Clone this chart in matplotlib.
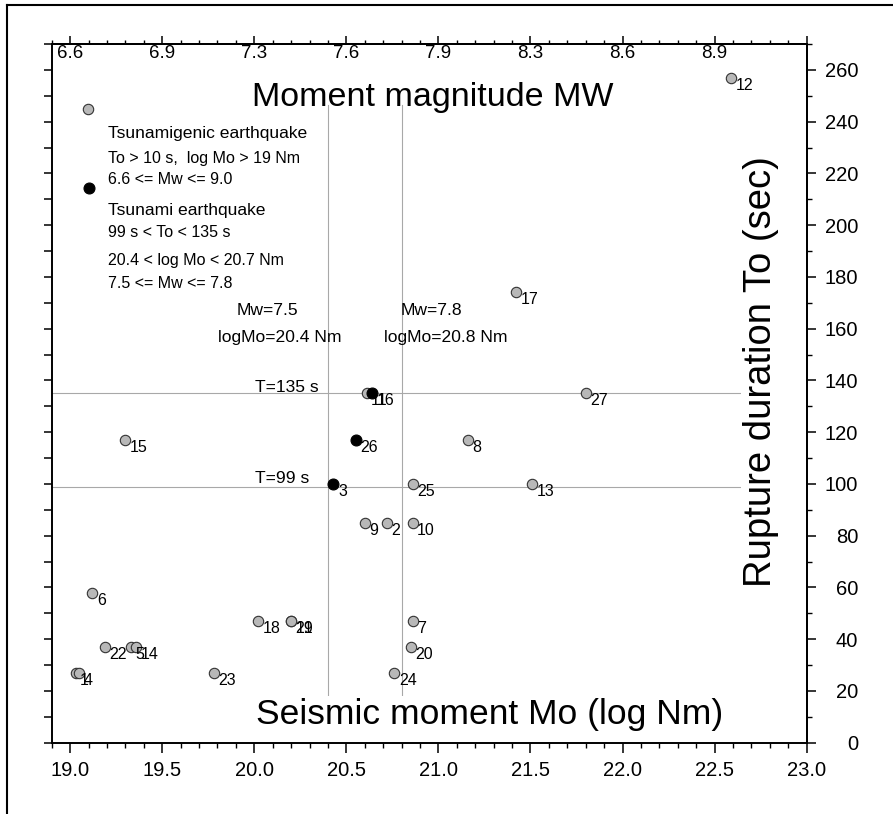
import matplotlib
matplotlib.use("Agg")
import matplotlib.pyplot as plt
from matplotlib.ticker import MultipleLocator, FixedLocator
from matplotlib.lines import Line2D

plt.rcParams['font.family'] = ['Liberation Sans', 'DejaVu Sans']

# ---------------- data ----------------
event_ids = [12, 17, 27, 8, 13, 25, 10, 2, 9, 15, 6, 18, 21, 19, 7, 20, 24, 22, 5, 14, 1, 4, 23, 11, 3, 26, 16]
log_mo = [22.59, 21.42, 21.80, 21.16, 21.51, 20.86, 20.86, 20.72, 20.60, 19.30, 19.12, 20.02, 20.20, 20.20,
          20.86, 20.85, 20.76, 19.19, 19.33, 19.36, 19.03, 19.05, 19.78, 20.61, 20.43, 20.55, 20.64]
rupture_to = [257, 174, 135, 117, 100, 100, 85, 85, 85, 117, 58, 47, 47, 47,
              47, 37, 27, 37, 37, 37, 27, 27, 27, 135, 100, 117, 135]
tsunami_eq = [3, 26, 16]

bottom_ticks = [19.0, 19.5, 20.0, 20.5, 21.0, 21.5, 22.0, 22.5, 23.0]
top_labels = ["6.6", "6.9", "7.3", "7.6", "7.9", "8.3", "8.6", "8.9", ""]
t_lines = [99, 135]
mo_lines = [20.4, 20.8]

# ---------------- figure ----------------
W, H = 893, 814
fig = plt.figure(figsize=(W / 100, H / 100), dpi=100)
ax = fig.add_axes([51.7 / W, 1 - 742.7 / H, 755 / W, 698.7 / H])
ax.set_xlim(18.9, 23.0)
ax.set_ylim(0, 270)

# outer frame (left and top lines)
fig.add_artist(Line2D([7 / W, 7 / W], [0, 1 - 5 / H], transform=fig.transFigure, color='black', lw=1.5))
fig.add_artist(Line2D([7 / W, 1], [1 - 5 / H, 1 - 5 / H], transform=fig.transFigure, color='black', lw=1.5))

for s in ax.spines.values():
    s.set_linewidth(1.4)

# reference lines
for t in t_lines:
    ax.plot([18.9, 22.68], [t, t], color='#a8a8a8', lw=0.8, zorder=1)
for m in mo_lines:
    ax.plot([m, m], [17.7, 246.5], color='#a8a8a8', lw=0.8, zorder=1)

# points
gray_x = [x for x, i in zip(log_mo, event_ids) if i not in tsunami_eq]
gray_y = [y for y, i in zip(rupture_to, event_ids) if i not in tsunami_eq]
blk_x = [x for x, i in zip(log_mo, event_ids) if i in tsunami_eq]
blk_y = [y for y, i in zip(rupture_to, event_ids) if i in tsunami_eq]
ax.scatter(gray_x, gray_y, s=56, facecolor='#b8b8b8', edgecolor='#333333', linewidth=0.8, zorder=3)
ax.scatter(blk_x, blk_y, s=62, facecolor='black', edgecolor='black', linewidth=0.8, zorder=4)
for x, y, i in zip(log_mo, rupture_to, event_ids):
    ax.annotate(str(i), (x, y), xytext=(3.3, -5.4), textcoords='offset points',
                ha='left', va='center', fontsize=11.5, zorder=5)

# legend-like annotation
ax.scatter([0.0485], [0.9066], s=56, facecolor='#b8b8b8', edgecolor='#333333', linewidth=0.8,
           transform=ax.transAxes, zorder=3, clip_on=False)
ax.scatter([0.0494], [0.7943], s=62, facecolor='black', edgecolor='black', linewidth=0.8,
           transform=ax.transAxes, zorder=3, clip_on=False)
lx = 19.208
ax.text(lx, 235.5, "Tsunamigenic earthquake", fontsize=12.6, va='center')
ax.text(lx, 225.9, "To > 10 s,  log Mo > 19 Nm", fontsize=11.5, va='center')
ax.text(lx, 217.6, "6.6 <= Mw <= 9.0", fontsize=11.5, va='center')
ax.text(lx, 205.6, "Tsunami earthquake", fontsize=12.6, va='center')
ax.text(lx, 197.2, "99 s < To < 135 s", fontsize=11.5, va='center')
ax.text(lx, 186.2, "20.4 < log Mo < 20.7 Nm", fontsize=11.5, va='center')
ax.text(lx, 177.5, "7.5 <= Mw <= 7.8", fontsize=11.5, va='center')

ax.text(19.905, 167.2, "Mw=7.5", fontsize=12.6, va='center')
ax.text(19.805, 156.6, "logMo=20.4 Nm", fontsize=12.6, va='center')
ax.text(20.797, 167.2, "Mw=7.8", fontsize=12.6, va='center')
ax.text(20.705, 156.6, "logMo=20.8 Nm", fontsize=12.6, va='center')
ax.text(20.004, 137.2, "T=135 s", fontsize=12.6, va='center')
ax.text(20.004, 102.0, "T=99 s", fontsize=12.6, va='center')

white = dict(facecolor='white', edgecolor='none', pad=1.0)
ax.text(20.968, 249.5, "Moment magnitude MW", fontsize=24.5, ha='center', va='center', zorder=2)
ax.text(21.277, 11.0, "Seismic moment Mo (log Nm)", fontsize=25.5, ha='center', va='center', bbox=white, zorder=2)
ax.text(22.75, 143.5, "Rupture duration To (sec)", fontsize=27.5, rotation=90, ha='center', va='center',
        bbox=white, zorder=2)

# bottom axis
ax.xaxis.set_major_locator(FixedLocator(bottom_ticks))
ax.xaxis.set_minor_locator(MultipleLocator(0.1))
ax.set_xticklabels([f"{v:.1f}" for v in bottom_ticks])
ax.tick_params(axis='x', which='major', direction='out', length=7, width=1.1, labelsize=14.5, pad=6.5)
ax.tick_params(axis='x', which='minor', direction='out', length=3.5, width=1.0)
ax.tick_params(axis='x', top=False, which='both')

# left axis: ticks only
ax.yaxis.set_major_locator(MultipleLocator(10))
ax.tick_params(axis='y', which='major', direction='out', length=6, width=1.1, labelleft=False)

# right axis with labels
secy = ax.secondary_yaxis('right')
secy.spines['right'].set_linewidth(1.4)
secy.yaxis.set_major_locator(MultipleLocator(20))
secy.yaxis.set_minor_locator(MultipleLocator(10))
secy.tick_params(which='major', direction='out', length=6.5, width=1.1, labelsize=14.5, pad=30.5)
secy.tick_params(which='minor', direction='out', length=3.5, width=1.0)
for lab in secy.get_yticklabels():
    lab.set_ha('right')

# top axis: moment magnitude
secx = ax.secondary_xaxis('top')
secx.spines['top'].set_linewidth(1.4)
secx.xaxis.set_major_locator(FixedLocator(bottom_ticks))
secx.xaxis.set_minor_locator(MultipleLocator(0.1))
secx.set_xticklabels(top_labels)
secx.tick_params(which='major', direction='out', length=6, width=1.1, labelsize=13.5, pad=-6.8)
secx.tick_params(which='minor', direction='out', length=2.6, width=1.0)
for lab in secx.get_xticklabels():
    lab.set_va('top')

fig.savefig("out.png", dpi=100)
